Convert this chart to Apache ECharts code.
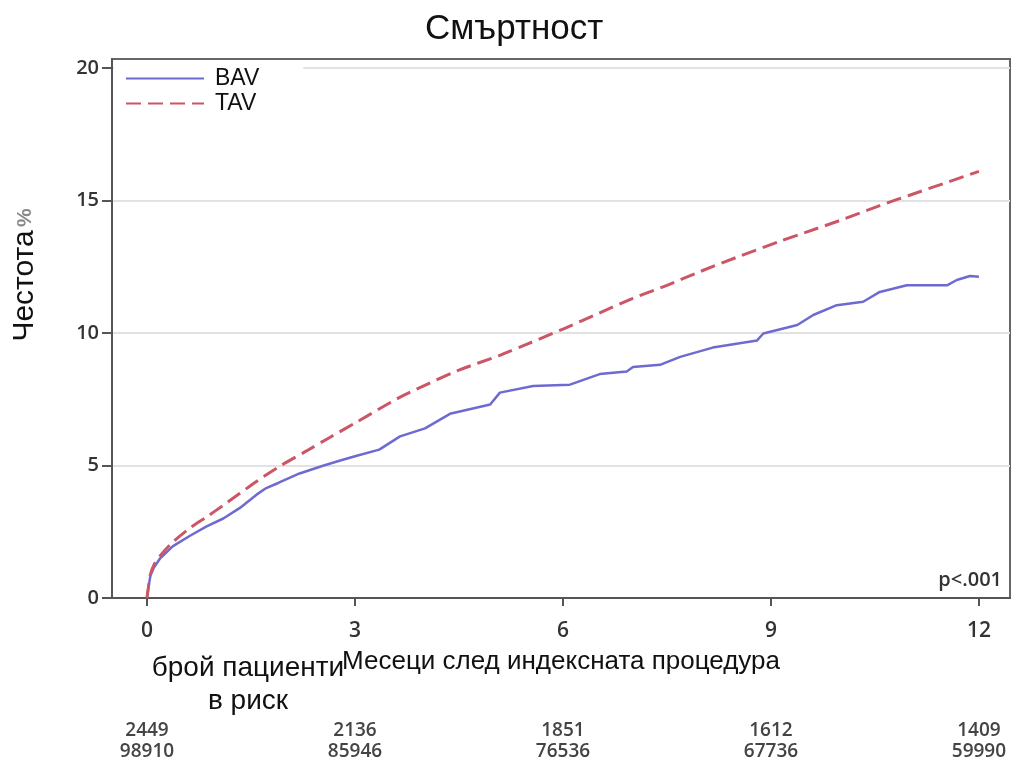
<!DOCTYPE html>
<html><head><meta charset="utf-8">
<script src="https://cdn.jsdelivr.net/npm/echarts@6/dist/echarts.min.js"></script>
<style>html,body{margin:0;padding:0;background:#fff}#c{width:1013px;height:760px}</style>
</head><body><div id="c"></div>
<script>
const xTicks = [0, 3, 6, 9, 12];
const yTicks = [0, 5, 10, 15, 20];
const atRiskBAV = [2449, 2136, 1851, 1612, 1409];
const atRiskTAV = [98910, 85946, 76536, 67736, 59990];

const bavMonths = [0,0.02,0.05,0.1,0.19,0.37,0.62,0.86,1.1,1.34,1.58,1.72,1.9,2.2,2.55,2.8,3.0,3.35,3.65,4.01,4.37,4.95,5.09,5.57,6.1,6.53,6.92,7.01,7.4,7.69,8.16,8.8,8.89,9.38,9.61,9.95,10.33,10.57,10.96,11.54,11.68,11.87,12.0];
const bavRate   = [0,0.4,0.85,1.15,1.5,1.95,2.35,2.7,3.0,3.4,3.9,4.15,4.35,4.7,5.0,5.2,5.35,5.6,6.1,6.4,6.95,7.3,7.75,8.0,8.05,8.45,8.55,8.72,8.8,9.1,9.45,9.72,9.98,10.3,10.68,11.05,11.18,11.55,11.8,11.8,12.0,12.15,12.12];

const tavMonths = [0,0.02,0.05,0.1,0.19,0.37,0.62,0.86,1.1,1.34,1.58,1.9,2.3,2.63,3.0,3.63,4.07,4.5,5.08,5.5,6.0,6.52,7.0,7.5,7.96,8.5,9.12,9.5,10.0,10.56,11.0,11.5,12.0];
const tavRate   = [0,0.4,0.9,1.25,1.6,2.1,2.64,3.06,3.5,3.95,4.4,4.95,5.55,6.05,6.6,7.55,8.1,8.6,9.15,9.6,10.15,10.75,11.3,11.8,12.3,12.85,13.45,13.8,14.25,14.8,15.2,15.65,16.1];

const zip = (a, b) => a.map((v, i) => [v, b[i]]);

const chart = echarts.init(document.getElementById('c'), null, {renderer: 'canvas'});
const axisGray = '#555';
const sans = 'Liberation Sans, Arial';
chart.setOption({
  animation: false,
  backgroundColor: '#fff',
  title: {
    text: 'Смъртност', left: 420, top: 7,
    textStyle: {fontFamily: sans, fontSize: 35, fontWeight: 'normal', color: '#111'}
  },
  grid: {left: 112, right: 3, top: 59, bottom: 162, outerBoundsMode: 'none', containLabel: false,
         show: true, borderColor: '#666', borderWidth: 2, backgroundColor: 'transparent'},
  legend: {
    orient: 'vertical', left: 114, top: 61,
    padding: [6, 44, 8, 11], itemGap: 2,
    itemWidth: 78, itemHeight: 14,
    backgroundColor: '#fff',
    itemStyle: {color: 'rgba(0,0,0,0)', borderWidth: 0, opacity: 0},
    textStyle: {fontFamily: sans, fontSize: 23, lineHeight: 22, color: '#111', padding: [1, 0, 0, 6]},
    data: ['BAV', 'TAV']
  },
  xAxis: [{
    type: 'value', min: -0.505, max: 12.448,
    name: 'Месеци след индексната процедура', nameLocation: 'middle', nameGap: 51,
    nameTextStyle: {fontFamily: sans, fontSize: 26, color: '#111'},
    axisLine: {show: true, onZero: false, lineStyle: {color: axisGray, width: 2}},
    axisTick: {show: true, length: 8, customValues: xTicks, lineStyle: {color: axisGray, width: 2}},
    axisLabel: {customValues: xTicks, margin: 23, fontFamily: 'Open Sans, Arial', fontWeight: 600, fontSize: 21, color: '#333'},
    splitLine: {show: false}
  }, {
    type: 'value', min: -0.505, max: 12.448, position: 'bottom', offset: 114,
    axisLine: {show: false, onZero: false}, axisTick: {show: false}, splitLine: {show: false},
    axisLabel: {
      customValues: xTicks, margin: 8, lineHeight: 21,
      fontFamily: 'Open Sans, Arial', fontWeight: 600, fontSize: 19, color: '#444',
      formatter: v => { const i = xTicks.indexOf(v); return i < 0 ? '' : atRiskBAV[i] + '\n' + atRiskTAV[i]; }
    }
  }],
  yAxis: {
    type: 'value', min: 0, max: 20.34,
    axisLine: {show: true, onZero: false, lineStyle: {color: axisGray, width: 2}},
    axisTick: {show: true, length: 10, customValues: yTicks, lineStyle: {color: axisGray, width: 2}},
    axisLabel: {customValues: yTicks, margin: 13, fontFamily: 'Open Sans, Arial', fontWeight: 600, fontSize: 20, color: '#333'},
    splitLine: {show: true, lineStyle: {color: '#e2e2e2', width: 2}}
  },
  graphic: [
    {type: 'text', x: 25, y: 275, rotation: Math.PI / 2,
     style: {text: '{a|Честота} {b|%}', align: 'center', verticalAlign: 'middle',
       rich: {a: {fontFamily: sans, fontSize: 30, fill: '#111'},
              b: {fontFamily: sans, fontSize: 21, fontWeight: 'bold', fill: '#888'}}}},
    {type: 'text', x: 248, y: 668, style: {text: 'брой пациенти', align: 'center', verticalAlign: 'middle', fontFamily: sans, fontSize: 28, fill: '#111'}},
    {type: 'text', x: 248, y: 701, style: {text: 'в риск', align: 'center', verticalAlign: 'middle', fontFamily: sans, fontSize: 28, fill: '#111'}},
    {type: 'text', x: 1002, y: 580, style: {text: 'p<.001', align: 'right', verticalAlign: 'middle', fontFamily: 'Open Sans, Arial', fontWeight: 600, fontSize: 20, fill: '#333'}}
  ],
  series: [
    {name: 'BAV', type: 'line', data: zip(bavMonths, bavRate), symbol: 'none', smooth: false,
     lineStyle: {color: '#6e6bd0', width: 2.5}, itemStyle: {color: '#6e6bd0'}, z: 3},
    {name: 'TAV', type: 'line', data: zip(tavMonths, tavRate), symbol: 'none', smooth: 0.3,
     lineStyle: {color: '#cc5566', width: 3, type: [15, 7]}, itemStyle: {color: '#cc5566'}, z: 4}
  ]
});
</script></body></html>
